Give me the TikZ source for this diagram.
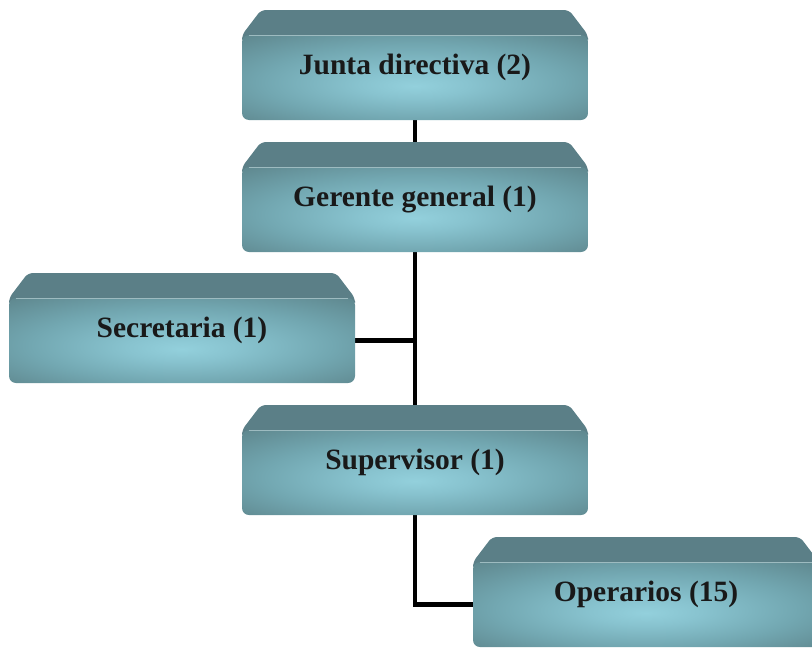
\documentclass[tikz,border=0pt]{standalone}
\usepackage{fontspec}
\setmainfont{Liberation Serif}
\usetikzlibrary{backgrounds}

\definecolor{facehi}{HTML}{93D0DC}
\definecolor{facehi2}{HTML}{88C3CF}
\definecolor{facemid}{HTML}{72A7B1}
\definecolor{facelo}{HTML}{5F888F}
\definecolor{faceedge}{HTML}{587B82}
\definecolor{bevelcol}{HTML}{5B7F87}
\definecolor{bevelhl}{HTML}{9DBBC0}

% light centre, darker rim; stretched over each box face
\pgfdeclareradialshading{boxface}{\pgfpoint{0bp}{-5bp}}{%
  color(0bp)=(facehi); color(8bp)=(facehi2);
  color(22bp)=(facemid); color(36bp)=(facelo);
  color(46bp)=(faceedge); color(50bp)=(faceedge!95!black)}

\tikzset{
  conn/.style={line width=4.5pt, black},
  boxlabel/.style={minimum width=346pt, minimum height=85pt, inner sep=0pt,
    font=\fontsize{29.5}{32}\selectfont\bfseries, text height=6pt, text depth=13pt,
    text=black!90},
}

% bevelled box: #1 name, #2 centre x, #3 top y, #4 label
\newcommand\orgbox[4]{%
  \fill[bevelcol, rounded corners=5pt]
    (#2-173,#3+33) -- (#2-173,#3+25) -- (#2-154,#3) -- (#2+154,#3)
    -- (#2+173,#3+25) -- (#2+173,#3+33) -- cycle;
  \shade[shading=boxface, rounded corners=7pt]
    (#2-173,#3+25) rectangle (#2+173,#3+110);
  \draw[bevelhl, line width=1pt] (#2-166,#3+25.5) -- (#2+166,#3+25.5);
  \node[boxlabel] (#1) at (#2,#3+67.5) {#4};
}

\begin{document}
\begin{tikzpicture}[x=1pt, y=-1pt]
  \useasboundingbox (0,0) rectangle (812,648);
  \clip (0,0) rectangle (812,648);

  \orgbox{junta}{415}{10}{Junta directiva (2)}
  \orgbox{gerente}{415}{142}{Gerente general (1)}
  \orgbox{secretaria}{182}{273}{Secretaria (1)}
  \orgbox{supervisor}{415}{405}{Supervisor (1)}
  \orgbox{operarios}{646}{537}{Operarios (15)}

  \begin{scope}[on background layer]
    \draw[conn] (junta.south) -- (gerente.north);
    \draw[conn] (gerente.south) -- (supervisor.north);
    \draw[conn] (secretaria.east) -- (secretaria.east -| gerente.south);
    \draw[conn] (supervisor.south) |- (operarios.west);
  \end{scope}
\end{tikzpicture}
\end{document}
